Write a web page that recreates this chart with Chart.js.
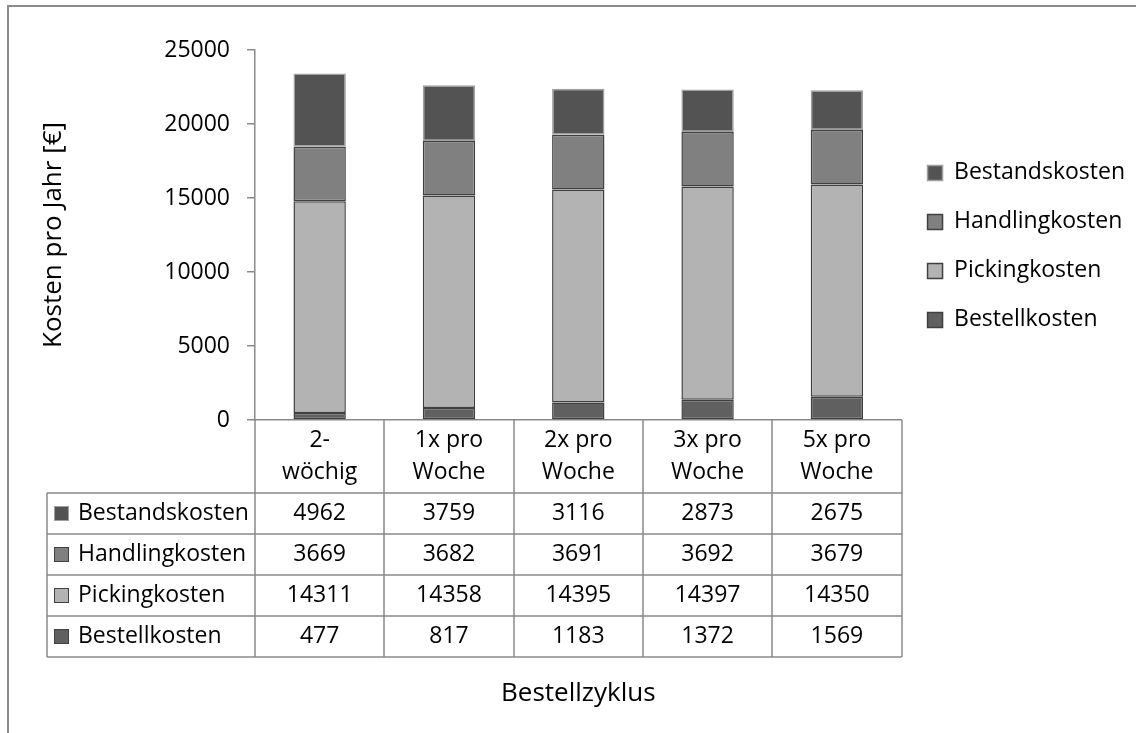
<!DOCTYPE html>
<html>
<head>
<meta charset="utf-8">
<title>Kosten pro Jahr nach Bestellzyklus</title>
<script src="https://cdn.jsdelivr.net/npm/chart.js@4"></script>
<style>
  html, body { margin: 0; padding: 0; background: #fff; }
  canvas { display: block; }
</style>
</head>
<body>
<canvas id="kostenChart" width="1136" height="733"></canvas>
<script>
// Daten
const categoryLabels = [['2-', 'wöchig'], ['1x pro', 'Woche'], ['2x pro', 'Woche'], ['3x pro', 'Woche'], ['5x pro', 'Woche']];
const bestellkosten = [477, 817, 1183, 1372, 1569];
const pickingkosten = [14311, 14358, 14395, 14397, 14350];
const handlingkosten = [3669, 3682, 3691, 3692, 3679];
const bestandskosten = [4962, 3759, 3116, 2873, 2675];
const yTickValues = [0, 5000, 10000, 15000, 20000, 25000];

const FONT = "'Open Sans', sans-serif";
const lineGrey = '#8a8a8a';

Chart.defaults.font.family = FONT;
Chart.defaults.font.size = 23;
Chart.defaults.color = '#000';

// Rahmen + Datentabelle unter der x-Achse
const tablePlugin = {
    id: 'tablePlugin',
    beforeDraw(chart) {
        const ctx = chart.ctx;
        ctx.save();
        ctx.fillStyle = '#fff';
        ctx.fillRect(0, 0, chart.width, chart.height);
        ctx.strokeStyle = '#8c8c8c';
        ctx.lineWidth = 2;
        ctx.beginPath();
        ctx.moveTo(8, chart.height);
        ctx.lineTo(8, 6);
        ctx.lineTo(chart.width, 6);
        ctx.stroke();
        ctx.restore();
    },
    afterDraw(chart) {
        const ctx = chart.ctx;
        const x = chart.scales.x;
        const labels = chart.data.labels;
        const n = labels.length;
        const colW = (x.right - x.left) / n;
        const top = x.top;
        const headerH = 73;
        const rowH = 41;
        const tableLeft = 47;
        // Reihenfolge in der Tabelle: oberstes Segment zuerst
        const rows = chart.data.datasets.slice().reverse();
        const bottom = top + headerH + rows.length * rowH;

        ctx.save();
        ctx.strokeStyle = lineGrey;
        ctx.lineWidth = 1.5;
        ctx.beginPath();
        // horizontale Linien
        for (let r = 0; r <= rows.length; r++) {
            const yy = Math.round(top + headerH + r * rowH);
            ctx.moveTo(tableLeft, yy);
            ctx.lineTo(x.right, yy);
        }
        // vertikale Linien
        ctx.moveTo(tableLeft, top + headerH);
        ctx.lineTo(tableLeft, bottom);
        for (let i = 0; i <= n; i++) {
            const xx = Math.round(x.left + i * colW);
            ctx.moveTo(xx, top);
            ctx.lineTo(xx, bottom);
        }
        ctx.stroke();

        ctx.fillStyle = '#000';
        ctx.font = '23px ' + FONT;
        ctx.textAlign = 'center';
        ctx.textBaseline = 'middle';
        // Kopfzeile mit Kategorien
        labels.forEach((lbl, i) => {
            const cx = x.getPixelForValue(i);
            lbl.forEach((line, k) => {
                ctx.fillText(line, cx, top + 20 + k * 32);
            });
        });
        // Datenzeilen
        rows.forEach((ds, r) => {
            const cy = top + headerH + r * rowH + rowH / 2;
            ctx.fillStyle = ds.backgroundColor;
            ctx.fillRect(54, cy - 7.5, 15, 15);
            ctx.strokeStyle = ds.borderColor;
            ctx.lineWidth = 1;
            ctx.strokeRect(54.5, cy - 7, 14, 14);
            ctx.fillStyle = '#000';
            ctx.textAlign = 'left';
            ctx.fillText(ds.label, 78, cy);
            ctx.textAlign = 'center';
            ds.data.forEach((v, i) => {
                ctx.fillText(String(v), x.getPixelForValue(i), cy);
            });
        });
        ctx.restore();
    }
};

const ctx = document.getElementById('kostenChart').getContext('2d');
new Chart(ctx, {
    type: 'bar',
    data: {
        labels: categoryLabels,
        datasets: [
            { label: 'Bestellkosten', data: bestellkosten, backgroundColor: '#606060', borderColor: '#404040' },
            { label: 'Pickingkosten', data: pickingkosten, backgroundColor: '#b3b3b3', borderColor: '#404040' },
            { label: 'Handlingkosten', data: handlingkosten, backgroundColor: '#808080', borderColor: '#404040' },
            { label: 'Bestandskosten', data: bestandskosten, backgroundColor: '#535353', borderColor: '#a0a0a0' }
        ]
    },
    options: {
        responsive: false,
        animation: false,
        layout: { padding: { top: 50, right: 1, bottom: 0, left: 0 } },
        datasets: {
            bar: {
                borderWidth: 1.5,
                borderSkipped: false,
                categoryPercentage: 1,
                barPercentage: 0.405
            }
        },
        scales: {
            x: {
                stacked: true,
                grid: { display: false },
                border: { display: true, color: lineGrey, width: 1.5 },
                ticks: { display: false },
                title: { display: true, text: 'Bestellzyklus', font: { size: 26 }, padding: { top: 0, bottom: 24 } },
                afterFit(scale) { scale.height = 313; }
            },
            y: {
                stacked: true,
                min: 0,
                max: 25000,
                afterBuildTicks(scale) { scale.ticks = yTickValues.map(v => ({ value: v })); },
                grid: { drawOnChartArea: false, drawTicks: true, tickLength: 8, color: lineGrey, lineWidth: 1.5 },
                border: { display: true, color: lineGrey, width: 1.5 },
                ticks: { padding: 17, callback: v => String(v) },
                title: { display: true, text: 'Kosten pro Jahr [€]', font: { size: 26 }, padding: { top: 38, bottom: 0 } },
                afterFit(scale) { scale.width = 255; }
            }
        },
        plugins: {
            legend: {
                position: 'right',
                fullSize: false,
                reverse: true,
                title: { display: true, text: '', padding: 0, font: { size: 19 } },
                labels: { boxWidth: 15, boxHeight: 15, padding: 26, color: '#000' }
            },
            tooltip: { enabled: false }
        }
    },
    plugins: [tablePlugin]
});
</script>
</body>
</html>
